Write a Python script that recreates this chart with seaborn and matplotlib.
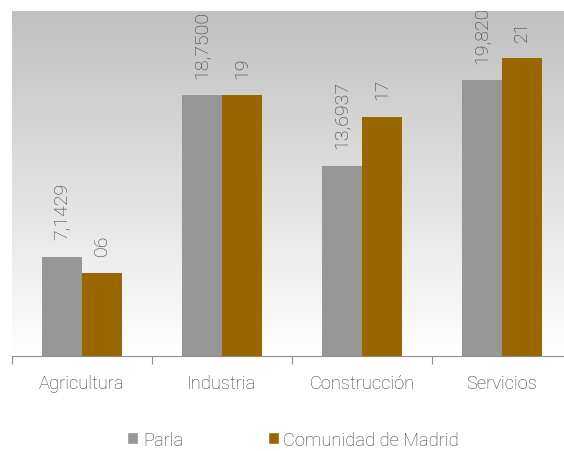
import numpy as np
import pandas as pd
import seaborn as sns
import matplotlib.pyplot as plt
from matplotlib.patches import Patch

# data
sectores = ["Agricultura", "Industria", "Construcción", "Servicios"]
parla = [7.1429, 18.75, 13.6937, 19.82]
madrid = [6.0, 18.75, 17.2, 21.4]
parla_labels = ["7,1429", "18,7500", "13,6937", "19,8200"]
madrid_labels = ["06", "19", "17", "21"]

gris = "#969696"
marron = "#996600"
texto = "#3a3a3a"

df = pd.DataFrame({
    "sector": sectores * 2,
    "valor": parla + madrid,
    "serie": ["Parla"] * 4 + ["Comunidad de Madrid"] * 4,
})

sns.set_style("white")
plt.rcParams["font.family"] = ["Roboto", "DejaVu Sans"]
plt.rcParams["font.weight"] = "light"

fig = plt.figure(figsize=(5.64, 4.52), dpi=100)
ax = fig.add_axes([12 / 564, 95 / 452, 560 / 564, 345 / 452])

ymax = 24.8
# gradient background, grey at the top fading to white
grad = np.linspace(0, 1, 256).reshape(-1, 1)
ax.imshow(grad, extent=(-0.5, 3.5, 0, ymax), aspect="auto",
          cmap=sns.blend_palette(["#ffffff", "#c0c0c0"], as_cmap=True),
          origin="lower", zorder=0)

sns.barplot(data=df, x="sector", y="valor", hue="serie", ax=ax,
            palette=[gris, marron], width=0.57, saturation=1,
            linewidth=0, legend=False, zorder=2)

# value labels, rotated
for cont, labels in zip(ax.containers, [parla_labels, madrid_labels]):
    for bar, lab in zip(cont, labels):
        ax.annotate(lab, (bar.get_x() + bar.get_width() / 2, bar.get_height()),
                    xytext=(0, 12.5), textcoords="offset points",
                    rotation=90, ha="center", va="bottom",
                    fontsize=14, color=texto, annotation_clip=False,
                    clip_on=True)

ax.set_xlim(-0.5, 3.5)
ax.set_ylim(0, ymax)
ax.set_xlabel("")
ax.set_ylabel("")
ax.set_yticks([])
for s in ["top", "right", "left"]:
    ax.spines[s].set_visible(False)
ax.spines["bottom"].set_color("#8c8c8c")
ax.spines["bottom"].set_linewidth(0.8)
ax.set_xticks(np.arange(-0.5, 4, 1), minor=True)
ax.tick_params(axis="x", which="minor", length=6, width=0.8, color="#8c8c8c",
               direction="out", bottom=True)
ax.tick_params(axis="x", which="major", length=0, pad=13,
               labelsize=13.2, labelcolor=texto)

handles = [Patch(facecolor=gris, label="Parla"),
           Patch(facecolor=marron, label="Comunidad de Madrid")]
leg = fig.legend(handles=handles, loc="center", bbox_to_anchor=(0.52, 0.025),
                 ncol=2, frameon=False, fontsize=13.2, handlelength=0.6,
                 handleheight=0.6, handletextpad=0.25, columnspacing=4.6)
for t in leg.get_texts():
    t.set_color(texto)

fig.savefig("out.png", dpi=100)
